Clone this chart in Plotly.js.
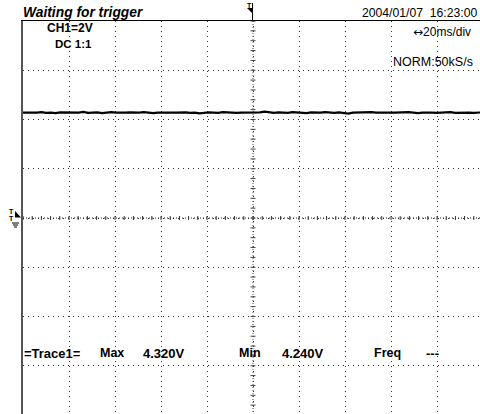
<!DOCTYPE html>
<html>
<head>
<meta charset="utf-8">
<script src="https://cdn.plot.ly/plotly-3.0.1.min.js"></script>
<style>
html,body{margin:0;padding:0;overflow:hidden;background:#fff;width:480px;height:414px;}
#chart{width:483px;height:415px;}
</style>
</head>
<body>
<div id="chart"></div>
<script>
// ---- Data ----
const timeRangeMs = [-100, 100];          // 20 ms/div x 10 div, trigger at centre
const voltRange = [-8, 8];                // 2 V/div x 8 div, ground at centre
const ch1Volts = [
  4.28,4.27,4.29,4.28,4.30,4.27,4.28,4.26,4.29,4.28,
  4.27,4.29,4.28,4.31,4.27,4.28,4.29,4.26,4.28,4.30,
  4.28,4.27,4.28,4.29,4.27,4.28,4.30,4.28,4.26,4.28,
  4.29,4.27,4.28,4.28,4.30,4.29,4.27,4.28,4.25,4.28,
  4.29,4.28,4.27,4.30,4.28,4.29,4.27,4.28,4.28,4.26,
  4.28,4.29,4.32,4.28,4.27,4.29,4.28,4.27,4.30,4.28,
  4.28,4.26,4.29,4.27,4.28,4.30,4.28,4.27,4.29,4.28,
  4.24,4.28,4.29,4.27,4.28,4.30,4.28,4.29,4.27,4.28,
  4.28,4.29,4.27,4.30,4.28,4.26,4.28,4.29,4.28,4.27,
  4.29,4.28,4.30,4.27,4.28,4.29,4.28,4.27,4.28,4.29
];
const headerLeft = "Waiting for trigger";
const headerRight = "2004/01/07  16:23:00";
const chLabel = "CH1=2V";
const couplingLabel = "DC 1:1";
const timebaseArrow = "\u2194";
const timebaseLabel = "20ms/div";
const modeLabel = "NORM:50kS/s";
const measLabels = ["=Trace1=", "Max", "4.320V", "Min", "4.240V", "Freq", "---"];

// sample clock (time of each sample)
const dt = (timeRangeMs[1] - timeRangeMs[0]) / (ch1Volts.length - 1);
const timesMs = ch1Volts.map((_, i) => timeRangeMs[0] + i * dt);

// ---- pixel helpers for decorations ----
const L = 23, T = 21, W = 460, H = 394;
const px = x => (x - L) / W;
const py = y => (T + H - y) / H;
const FONT = 'Liberation Sans, Arial, sans-serif';

function ann(text, x, y, size, extra) {
  return Object.assign({
    xref: 'paper', yref: 'paper', x: px(x), y: py(y), text: text,
    showarrow: false, xanchor: 'left', yanchor: 'middle', borderpad: 0,
    font: {family: FONT, size: size || 11, color: '#000'}
  }, extra || {});
}

const annotations = [
  ann('<b><i>' + headerLeft + '</i></b>', 22, 12, 13.8),
  ann(headerRight, 478, 13, 12.2, {xanchor: 'right'}),
  ann('<b>' + chLabel + '</b>', 46, 28, 12),
  ann('<b>' + couplingLabel + '</b>', 54, 44, 11.5),
  ann('<span style="font-family:DejaVu Sans">' + timebaseArrow + '</span>' + timebaseLabel, 472, 32, 12, {xanchor: 'right'}),
  ann(modeLabel, 392, 62, 12.5),
  ann('<b>' + measLabels[0] + '</b>', 23, 353, 13),
  ann('<b>' + measLabels[1] + '</b>', 99, 353, 12.5),
  ann('<b>' + measLabels[2] + '</b>', 142, 353, 13),
  ann('<b>' + measLabels[3] + '</b>', 238, 353, 12.5),
  ann('<b>' + measLabels[4] + '</b>', 281, 353, 13),
  ann('<b>' + measLabels[5] + '</b>', 373, 353, 12.5),
  ann('<b>' + measLabels[6] + '</b>', 425, 353, 13)
].concat([
  ann('<b>T</b>', 246, 5, 7),
  ann('<b>T</b>', 8, 212, 7),
  ann('<b>T</b>', 8, 218, 7)
]);

// ---- graticule decorations ----
const shapes = [];
// centre cross (fine dotted)
shapes.push({type:'line', xref:'x', yref:'paper', x0:0, x1:0, y0:0, y1:1,
  line:{color:'#555', width:1, dash:'1px,2px'}});
shapes.push({type:'line', xref:'paper', yref:'y', x0:0, x1:1, y0:0, y1:0,
  line:{color:'#222', width:1, dash:'1px,2px'}});
// minor ticks on centre cross: 5 per division
for (let v = voltRange[0]; v <= voltRange[1] + 1e-9; v += 0.4) {
  shapes.push({type:'line', xref:'x', yref:'y', xsizemode:'pixel', xanchor:0,
    x0:-2.5, x1:2.5, y0:v, y1:v, line:{color:'#444', width:1}});
}
for (let t = timeRangeMs[0]; t <= timeRangeMs[1] + 1e-9; t += 4) {
  shapes.push({type:'line', xref:'x', yref:'y', ysizemode:'pixel', yanchor:0,
    y0:-2, y1:2, x0:t, x1:t, line:{color:'#333', width:1}});
}
// trigger position marker (top)
shapes.push({type:'line', xref:'paper', yref:'paper', x0:px(252.5), x1:px(252.5), y0:py(3), y1:py(21),
  line:{color:'#000', width:1}});
shapes.push({type:'path', xref:'paper', yref:'paper',
  path:`M${px(247)},${py(8)} L${px(252.5)},${py(8)} L${px(252.5)},${py(13.5)} Z`,
  fillcolor:'#000', line:{width:0}});
// trigger level / ground marker (left)
shapes.push({type:'path', xref:'paper', yref:'paper',
  path:`M${px(15)},${py(211)} L${px(21)},${py(217.5)} L${px(15)},${py(217.5)} Z`,
  fillcolor:'#000', line:{width:0}});
[[12,19,223],[13,18,225],[14,17,227]].forEach(g => {
  shapes.push({type:'line', xref:'paper', yref:'paper', x0:px(g[0]), x1:px(g[1]), y0:py(g[2]), y1:py(g[2]),
    line:{color:'#000', width:1}});
});

const trace = {
  x: timesMs, y: ch1Volts, type: 'scatter', mode: 'lines',
  line: {color: '#000', width: 2.2}, hoverinfo: 'skip'
};

const layout = {
  width: 483, height: 415,
  margin: {l: L, r: 0, t: T, b: 0, pad: 0},
  paper_bgcolor: '#fff', plot_bgcolor: '#fff',
  showlegend: false,
  xaxis: {
    range: timeRangeMs, dtick: 20, tick0: 0, showticklabels: false, ticks: '',
    showgrid: true, gridcolor: '#333', gridwidth: 1, griddash: '1px,4px',
    zeroline: false, showline: true, mirror: true, linecolor: '#000', linewidth: 1,
    fixedrange: true
  },
  yaxis: {
    range: voltRange, dtick: 2, tick0: 0, showticklabels: false, ticks: '',
    showgrid: true, gridcolor: '#333', gridwidth: 1, griddash: '1px,4px',
    zeroline: false, showline: true, mirror: false, linecolor: '#555', linewidth: 2,
    fixedrange: true
  },
  shapes: shapes,
  annotations: annotations
};

Plotly.newPlot('chart', [trace], layout, {displayModeBar: false, staticPlot: true});
</script>
</body>
</html>
